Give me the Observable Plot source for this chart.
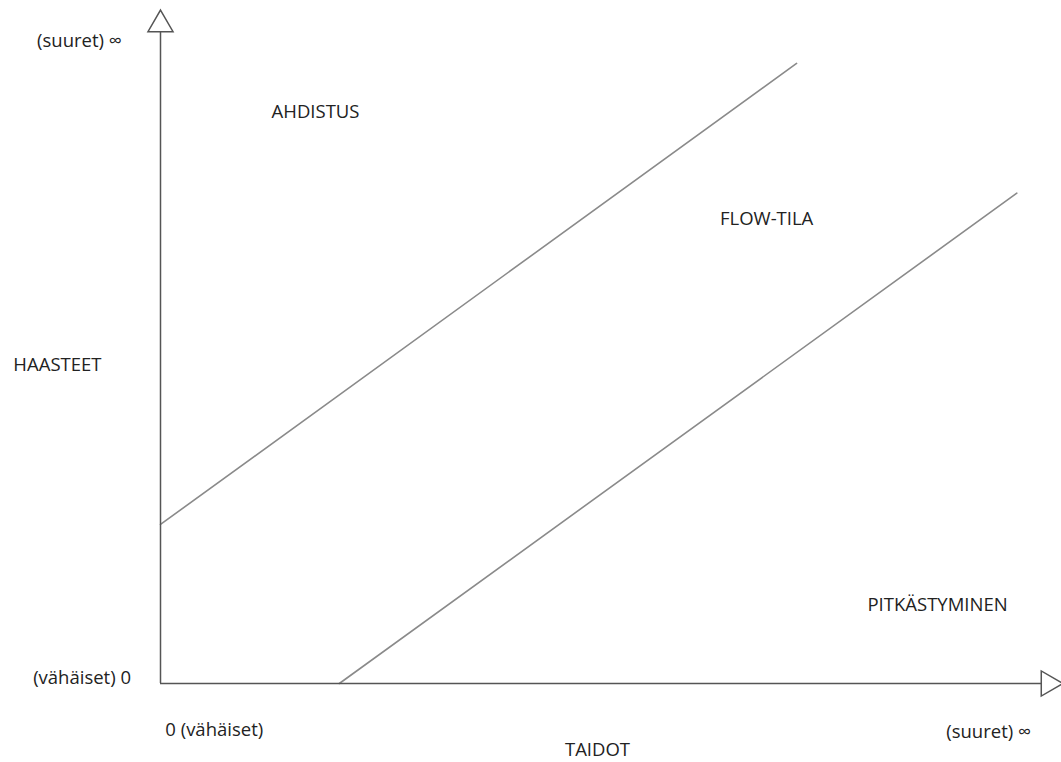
<!DOCTYPE html>
<html>
<head>
<meta charset="utf-8">
<script src="https://cdn.jsdelivr.net/npm/d3@7"></script>
<script src="https://cdn.jsdelivr.net/npm/@observablehq/plot@0.6"></script>
<style>
  html, body { margin: 0; padding: 0; background: #fff; }
  #chart svg { display: block; }
</style>
</head>
<body>
<div id="chart"></div>
<script>
// Conceptual axes: skills (x) and challenges (y), 0 .. axisMax
const axisMax = 100;

// Boundary lines (flow channel)
const lineNames = ["ylä", "ylä", "ala", "ala"];
const lineX = [0, 72.2, 20.3, 97.2];
const lineY = [24.4, 95.1, 0, 75.2];

// Labels
const labelText = ["(suuret) ∞", "(vähäiset) 0", "HAASTEET", "AHDISTUS", "FLOW-TILA", "PITKÄSTYMINEN", "0 (vähäiset)", "(suuret) ∞", "TAIDOT"];
const labelX = [-9.2, -8.9, -11.7, 17.6, 68.8, 88.2, 6.1, 94.0, 49.6];
const labelY = [98.6, 0.8, 48.9, 87.6, 71.3, 12.1, -7.1, -7.4, -10.2];

const lines = lineNames.map((n, i) => ({name: n, x: lineX[i], y: lineY[i]}));
const labels = labelText.map((t, i) => ({text: t, x: labelX[i], y: labelY[i]}));

const chart = Plot.plot({
  width: 1061,
  height: 762,
  marginLeft: 160,
  marginRight: 20,
  marginTop: 31,
  marginBottom: 79,
  x: {domain: [0, axisMax], axis: null},
  y: {domain: [0, axisMax], axis: null},
  style: {fontFamily: "'Open Sans', sans-serif", fontSize: "18.5px", background: "#fff", overflow: "visible"},
  marks: [
    Plot.line(lines, {x: "x", y: "y", z: "name", stroke: "#8a8a8a", strokeWidth: 1.6}),
    Plot.ruleX([0], {y1: 0, y2: axisMax, stroke: "#555", strokeWidth: 1.5}),
    Plot.ruleY([0], {x1: 0, x2: axisMax, stroke: "#555", strokeWidth: 1.5}),
    Plot.dot([{x: 0, y: axisMax}], {x: "x", y: "y", symbol: "triangle", r: 9.3, dy: -7, fill: "#fff", stroke: "#555", strokeWidth: 1.5}),
    Plot.dot([{x: axisMax, y: 0}], {x: "x", y: "y", symbol: "triangle", r: 9.3, dx: 7, rotate: 90, fill: "#fff", stroke: "#555", strokeWidth: 1.5}),
    Plot.text(labels, {x: "x", y: "y", text: "text", fill: "#222", fontSize: 18.5, textAnchor: "middle", lineAnchor: "middle"})
  ]
});
document.getElementById("chart").appendChild(chart);
</script>
</body>
</html>
